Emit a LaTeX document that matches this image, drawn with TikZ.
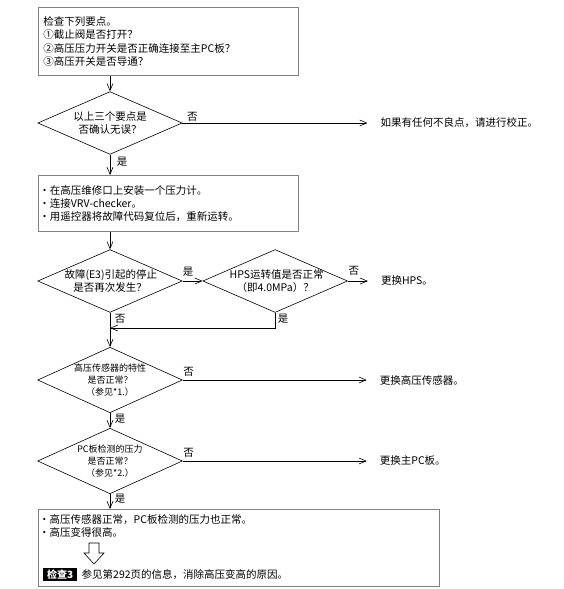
\documentclass[tikz,border=0pt]{standalone}
\usepackage{fontspec}
\newfontfamily\cjkfont{Noto Sans CJK SC}
\usepackage{tikz}
\usetikzlibrary{shapes.geometric, arrows.meta, positioning}
\definecolor{boxgray}{gray}{0.5}
\tikzset{every picture/.style={font=\cjkfont\fontsize{10.5}{13.5}\selectfont}}

\begin{document}
\begin{tikzpicture}[
  x=1pt, y=-1pt,
  infobox/.style={draw=boxgray, line width=0.9pt, inner xsep=5pt, inner ysep=0pt, align=left, anchor=north west},
  decision/.style={diamond, draw, line width=0.6pt, shape aspect=2.3, inner sep=0pt, text width=91pt, align=center},
  smalldecision/.style={decision, shape aspect=2.21, text width=73pt, font=\cjkfont\fontsize{9}{12}\selectfont},
  outtext/.style={inner xsep=13pt, inner ysep=0pt, anchor=west},
  answer/.style={inner sep=0pt},
  tag/.style={fill=black, text=white, font=\cjkfont\bfseries, inner xsep=4pt, inner ysep=1.5pt},
  arrow/.style={-{Straight Barb[length=7pt,width=6pt]}, line width=0.6pt}
]
  \useasboundingbox (0,0) rectangle (564,589);

  % boxes
  \node[infobox, text width=250pt, minimum height=68pt] (check) at (38,7)
    {检查下列要点。\\①截止阀是否打开？\\②高压压力开关是否正确连接至主PC板？\\③高压开关是否导通？};
  \node[infobox, text width=258pt, inner xsep=1pt, minimum height=56pt,
        font=\cjkfont\fontsize{10.5}{12.8}\selectfont] (setup) at (38,175)
    {・在高压维修口上安装一个压力计。\\・连接VRV-checker。\\・用遥控器将故障代码复位后，重新运转。};
  \node[infobox, minimum width=401pt, minimum height=77pt] (result) at (38,509) {};

  % decisions
  \node[decision] (q1) at (110,123) {以上三个要点是\\否确认无误？};
  \node[outtext, right=185pt of q1] (fix) {如果有任何不良点，请进行校正。};

  \node[decision] (q2) at (110,281) {故障(E3)引起的停止\\是否再次发生？};
  \node[decision, right=20pt of q2] (q3) {HPS运转值是否正常\\（即4.0MPa）？};
  \node[outtext, right=20pt of q3] (hps) {更换HPS。};
  \coordinate (merge) at (110,328);

  \node[smalldecision] (q4) at (110,380) {高压传感器的特性\\是否正常？\\（参见*1.）};
  \node[outtext, right=184pt of q4] (sensor) {更换高压传感器。};

  \node[smalldecision] (q5) at (110,461) {PC板检测的压力\\是否正常？\\（参见*2.）};
  \node[outtext, right=184pt of q5] (pcb) {更换主PC板。};

  % yes / no
  \node[answer] at ([shift={(10pt,6pt)}]q1.east) {否};
  \node[answer] at ([shift={(12pt,-7pt)}]q1.south) {是};
  \node[answer] at ([shift={(5.5pt,9.5pt)}]q2.east) {是};
  \node[answer] at ([shift={(6pt,10pt)}]q3.east) {否};
  \node[answer] at ([shift={(10pt,-6pt)}]q2.south) {否};
  \node[answer] at ([shift={(8pt,-6pt)}]q3.south) {是};
  \node[answer] at ([shift={(6pt,8pt)}]q4.east) {否};
  \node[answer] at ([shift={(10pt,-6pt)}]q4.south) {是};
  \node[answer] at ([shift={(6pt,8pt)}]q5.east) {否};
  \node[answer] at ([shift={(10pt,-5pt)}]q5.south) {是};

  % connectors
  \draw[arrow] (check.south -| q1) -- (q1);
  \draw[arrow] (q1) -- (fix);
  \draw[arrow] (q1) -- (q1 |- setup.north);
  \draw[arrow] (q2 |- setup.south) -- (q2);
  \draw[arrow] (q2) -- (q3);
  \draw[arrow] (q3) -- (hps);
  \draw[arrow] (q3) |- (merge);
  \draw[arrow] (q2) -- (q4);
  \draw[arrow] (q4) -- (sensor);
  \draw[arrow] (q4) -- (q5);
  \draw[arrow] (q5) -- (pcb);
  \draw[arrow] (q5) -- (q5 |- result.north);

  % result box contents
  \node[answer, anchor=north west, align=left] (notes) at ([shift={(1pt,-5pt)}]result.north west)
    {・高压传感器正常，PC板检测的压力也正常。\\・高压变得很高。};
  \draw[line width=0.6pt] (89,543) -- (99,543) -- (99,553) -- (104,553) -- (94,564)
    -- (84,553) -- (89,553) -- cycle;
  \node[tag, anchor=south west] (check3) at ([shift={(5pt,6pt)}]result.south west) {检查3};
  \node[answer, right=4pt of check3] (seeref) {参见第292页的信息，消除高压变高的原因。};
\end{tikzpicture}
\end{document}
